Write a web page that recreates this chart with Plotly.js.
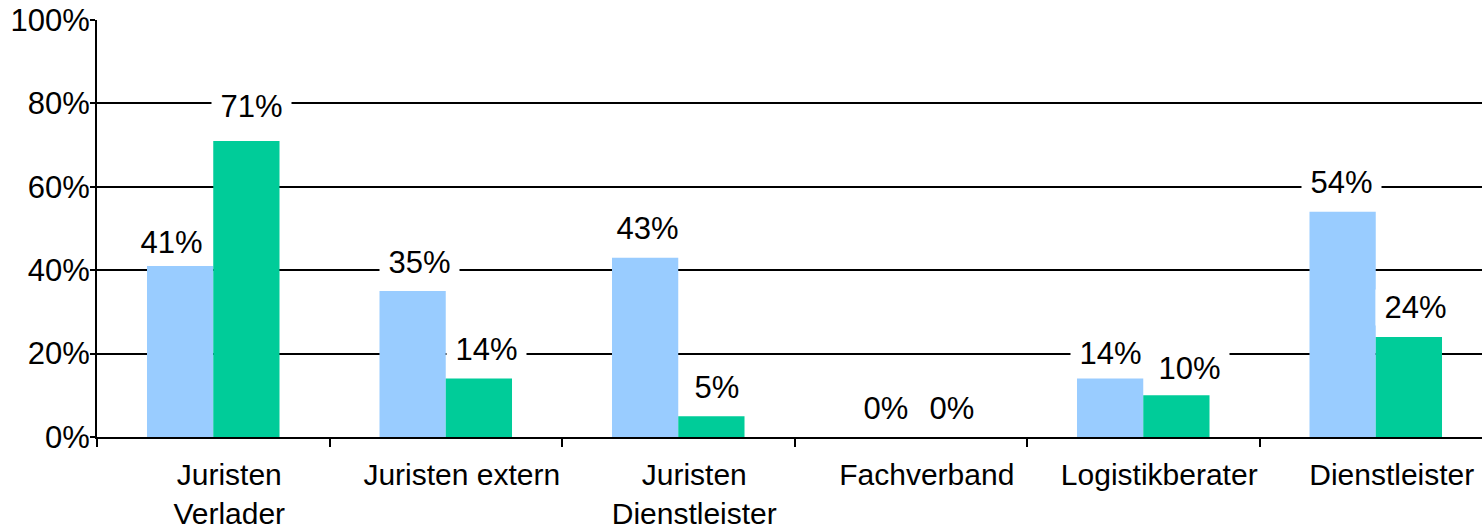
<!DOCTYPE html>
<html>
<head>
<meta charset="utf-8">
<script src="https://cdn.plot.ly/plotly-3.0.1.min.js"></script>
<style>
html,body{margin:0;padding:0;overflow:hidden;background:#fff;width:1482px;height:531px;}
#chart{width:1492px;height:531px;}
</style>
</head>
<body>
<div id="chart"></div>
<script>
const categories = ["Juristen<br>Verlader", "Juristen extern", "Juristen<br>Dienstleister", "Fachverband", "Logistikberater", "Dienstleister"];
const seriesA = [41, 35, 43, 0, 14, 54];
const seriesB = [71, 14, 5, 0, 10, 24];
const yTickVals = [0, 20, 40, 60, 80, 100];
const yTickText = ["0%", "20%", "40%", "60%", "80%", "100%"];

// label placement nudges in pixels (styling only)
const nudgeXA = [-9, 7, 2, 8, 0, -1];
const nudgeXB = [5, 8, 6, 8, 13, 7];
const nudgeYA = [-5, 0, 0, 0, -4, 0];
const nudgeYB = [5, 0, 0, 0, -2, 0];

const FONT = "Liberation Sans, Arial, sans-serif";
const bargap = 0.43;
const half = (1 - bargap) / 2;

const traces = [
  {type: "bar", x: categories, y: seriesA, marker: {color: "#99CCFF", line: {width: 0}}, name: "A", hoverinfo: "none"},
  {type: "bar", x: categories, y: seriesB, marker: {color: "#00CC99", line: {width: 0}}, name: "B", hoverinfo: "none"}
];

const annotations = [];
[[seriesA, nudgeXA, nudgeYA], [seriesB, nudgeXB, nudgeYB]].forEach(([s, nx, ny], k) => {
  s.forEach((v, i) => {
    annotations.push({
      x: i + (k === 0 ? -half / 2 : half / 2),
      y: v,
      xref: "x", yref: "y",
      text: "\u00a0" + v + "%\u00a0",
      showarrow: false,
      xanchor: "center", yanchor: "middle",
      yshift: 29 + ny[i], xshift: nx[i],
      bgcolor: "#ffffff",
      borderpad: 0,
      font: {family: FONT, size: 31, color: "#000"}
    });
  });
});

const layout = {
  width: 1492, height: 531,
  margin: {l: 97, r: 0, t: 20, b: 94, pad: 0},
  paper_bgcolor: "#fff", plot_bgcolor: "#fff",
  showlegend: false,
  barmode: "group",
  bargap: bargap, bargroupgap: 0,
  font: {family: FONT, size: 30, color: "#000"},
  xaxis: {
    type: "category",
    range: [-0.5, 5.5],
    showgrid: false,
    showline: true, linecolor: "#000", linewidth: 2,
    ticks: "outside", tickson: "boundaries", ticklen: 8, tickwidth: 2, tickcolor: "#000",
    ticklabelshift: 16, ticklabelstandoff: 10,
    tickfont: {family: FONT, size: 30, color: "#000"},
    fixedrange: true
  },
  yaxis: {
    range: [0, 100],
    tickvals: yTickVals, ticktext: yTickText,
    showgrid: true, gridcolor: "#000", gridwidth: 2,
    zeroline: false,
    showline: true, linecolor: "#000", linewidth: 2,
    ticks: "outside", ticklen: 5, tickwidth: 2, tickcolor: "#000",
    ticklabelstandoff: -6,
    tickfont: {family: FONT, size: 31, color: "#000"},
    fixedrange: true
  },
  annotations: annotations
};

Plotly.newPlot("chart", traces, layout, {displayModeBar: false, staticPlot: true});
</script>
</body>
</html>
